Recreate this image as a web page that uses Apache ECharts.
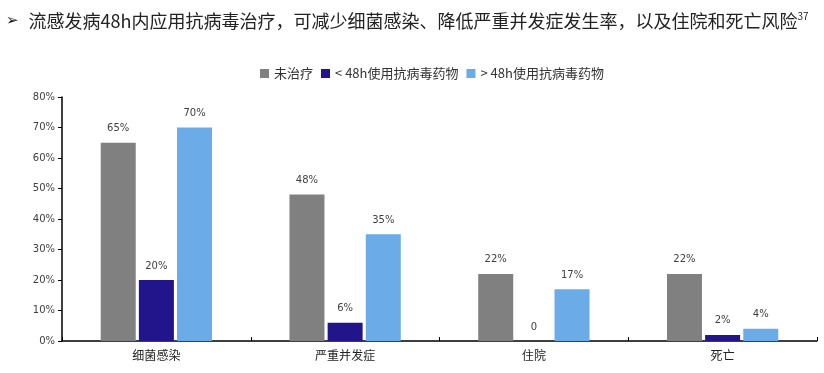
<!DOCTYPE html>
<html><head><meta charset="utf-8">
<script src="https://cdn.jsdelivr.net/npm/echarts@6/dist/echarts.min.js"></script>
<style>html,body{margin:0;padding:0;background:#fff}#c{width:824px;height:373px}</style>
</head><body><div id="c"></div>
<script>
const categories = ['细菌感染', '严重并发症', '住院', '死亡'];
const seriesNames = ['未治疗', '< 48h使用抗病毒药物', '> 48h使用抗病毒药物'];
const untreated = [65, 48, 22, 22];
const within48 = [20, 6, 0, 2];
const after48 = [70, 35, 17, 4];
const yTicks = [0, 10, 20, 30, 40, 50, 60, 70, 80];
const colors = ['#808080', '#22148A', '#6AABE8'];

const chart = echarts.init(document.getElementById('c'), null, {renderer: 'canvas'});
const labelCfg = {
  show: true, position: 'top', distance: 9,
  fontSize: 10, color: '#404040', fontFamily: 'DejaVu Sans',
  formatter: p => p.value === 0 ? '0' : p.value + '%'
};
const mk = (name, data, color) => ({
  name, type: 'bar', data, barWidth: 35, barGap: '9%',
  itemStyle: {color}, label: labelCfg
});
chart.setOption({
  animation: false,
  title: {
    left: 1, top: 6,
    text: '{a|➢}  {t|流感发病48h内应用抗病毒治疗，可减少细菌感染、降低严重并发症发生率，以及住院和死亡风险}{s|37}',
    textStyle: {
      fontWeight: 'normal',
      rich: {
        a: {fontSize: 15, color: '#111', fontFamily: 'DejaVu Sans', fontWeight: 'bold'},
        t: {fontSize: 18, color: '#222', fontFamily: 'Noto Sans CJK SC', fontWeight: 'normal'},
        s: {fontSize: 10, color: '#222', verticalAlign: 'top', padding: [0,0,10,0], fontFamily: 'Noto Sans CJK SC', fontWeight: 'normal'}
      }
    }
  },
  legend: {
    top: 62, left: 255,
    itemWidth: 9, itemHeight: 9, itemGap: 8,
    icon: 'rect',
    textStyle: {fontSize: 13, color: '#333', fontFamily: 'Noto Sans CJK SC'},
    data: seriesNames
  },
  grid: {left: 62, right: 7, top: 97, bottom: 32},
  xAxis: {
    type: 'category', data: categories,
    axisLine: {lineStyle: {color: '#000', width: 1.5}},
    axisTick: {show: true, inside: true, length: 4, lineStyle: {color: '#000'}},
    axisLabel: {fontSize: 12, color: '#222', margin: 8, fontFamily: 'Noto Sans CJK SC'}
  },
  yAxis: {
    type: 'value', min: yTicks[0], max: yTicks[yTicks.length-1], interval: 10,
    axisLine: {show: true, lineStyle: {color: '#000', width: 1.5}},
    axisTick: {show: true, length: 4, lineStyle: {color: '#000'}},
    splitLine: {show: false},
    axisLabel: {fontSize: 10, color: '#404040', margin: 7, fontFamily: 'DejaVu Sans', formatter: v => v + '%'}
  },
  series: [
    mk(seriesNames[0], untreated, colors[0]),
    mk(seriesNames[1], within48, colors[1]),
    mk(seriesNames[2], after48, colors[2])
  ]
});
</script></body></html>
